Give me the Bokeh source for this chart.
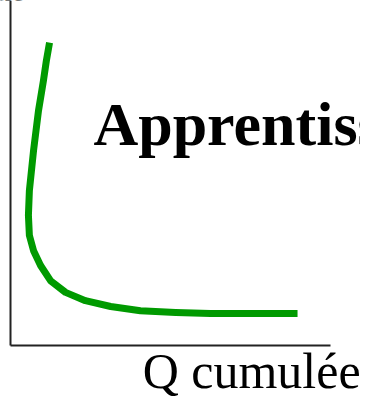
from bokeh.plotting import figure
from bokeh.models import Label, Range1d, LinearAxis, FixedTicker
from bokeh.embed import file_html
from bokeh.resources import INLINE

# Learning curve (unit cost vs cumulative quantity), arbitrary units
q_cumulee = [12.2, 11.2, 10.3, 8.75, 7.2, 5.9, 5.6, 5.9, 7.2, 9.4, 12.5, 17.2,
             23.4, 31.3, 40.6, 51.6, 62.5, 75.0, 89.7]
cout = [87.8, 82.5, 76.8, 68.1, 56.5, 44.9, 37.7, 31.9, 27.5, 23.2, 18.8, 15.4,
        13.0, 11.3, 10.1, 9.6, 9.3, 9.3, 9.3]
titre = "Apprentissage"
x_label = "Q cumulée"
y_label = "Coût"

W, H = 360, 400
p = figure(width=W, height=H, output_backend="svg", toolbar_location=None,
           x_range=Range1d(-3.125, 109.375), y_range=Range1d(-15.94, 100),
           x_axis_type=None, y_axis_type=None,
           min_border_left=0, min_border_right=0, min_border_top=0,
           min_border_bottom=0)
p.outline_line_color = None
p.grid.visible = False
p.background_fill_color = "white"
p.border_fill_color = "white"

xa = LinearAxis(fixed_location=0, bounds=(0, 100), ticker=FixedTicker(ticks=[]))
ya = LinearAxis(fixed_location=0, bounds=(0, 100), ticker=FixedTicker(ticks=[]))
for ax in (xa, ya):
    ax.major_tick_line_color = None
    ax.minor_tick_line_color = None
    ax.major_label_standoff = 0
    ax.major_tick_out = 0
    ax.minor_tick_out = 0
    ax.axis_line_width = 2
    ax.axis_line_color = "#222222"
p.add_layout(xa, "below")
p.add_layout(ya, "left")

p.line(q_cumulee, cout, line_color="#009a00", line_width=7,
       line_join="round", line_cap="butt")

p.add_layout(Label(x=25.9, y=64.2, text=titre, text_font="Liberation Serif",
                   text_font_style="bold", text_font_size="62px",
                   text_color="black", text_baseline="alphabetic",
                   text_align="left"))
p.add_layout(Label(x=41.3, y=-7.4, text=x_label, text_font="Liberation Serif",
                   text_font_size="50px", text_color="black",
                   text_baseline="alphabetic", text_align="left"))
p.add_layout(Label(x=3.8, y=103.9, text=y_label, text_font="Liberation Serif",
                   text_font_size="40px", text_color="black",
                   text_baseline="alphabetic", text_align="right"))

open("out.html", "w").write(file_html(p, INLINE))
